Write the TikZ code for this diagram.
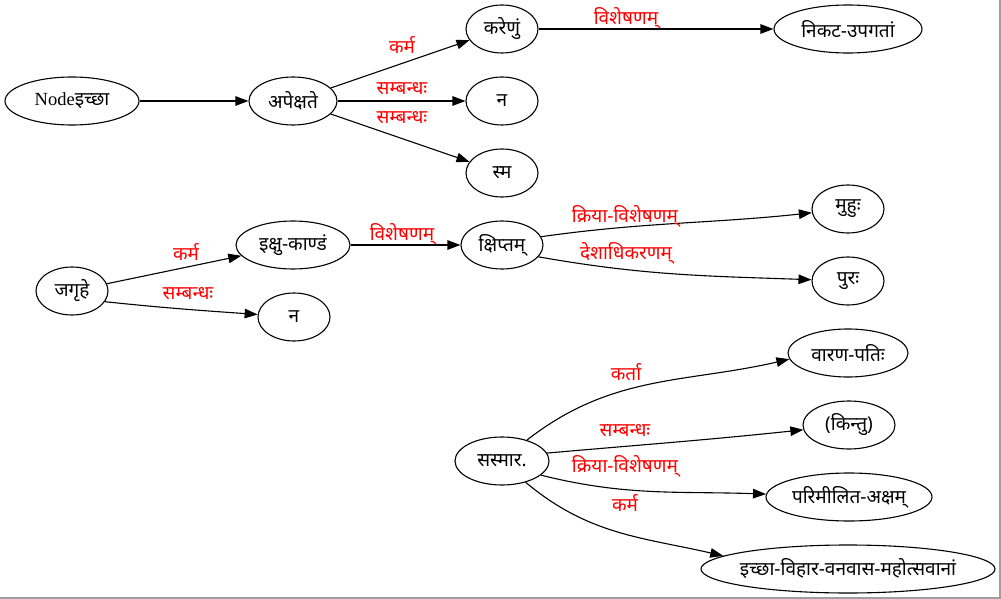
\documentclass[tikz,border=0pt]{standalone}
\usepackage{fontspec}
\setmainfont{Liberation Serif}
\newfontfamily\deva[Script=Devanagari]{Noto Sans}
\usetikzlibrary{shapes.geometric,arrows.meta}
\newcommand{\zb}[1]{\makebox[0pt][c]{#1}}
\begin{document}
\begin{tikzpicture}[x=1pt,y=1pt,
  nd/.style={draw, ellipse, line width=1.1pt, inner sep=0pt, minimum height=48pt,
    font=\fontsize{19}{22}\selectfont\deva},
  ed/.style={line width=1.1pt, -{Triangle[length=13pt,width=9.5pt]}},
  lb/.style={text=red, inner sep=0pt, font=\fontsize{19}{22}\selectfont\deva}]
\useasboundingbox (0,0) rectangle (1001,-599);
\draw[gray!75, line width=1.6pt] (0,-598) -- (999.8,-598) -- (999.8,0);

\node[nd, minimum width=134pt] (n1) at (72,-101) {\zb{{\rmfamily\fontsize{18.5}{22}\selectfont Node}इच्छा}};
\node[nd, minimum width=88pt]  (n2) at (293,-101) {\zb{अपेक्षते}};
\node[nd, minimum width=72pt]  (n3) at (502,-29) {\zb{करेणुं}};
\node[nd, minimum width=72pt]  (n4) at (502,-101) {\zb{न}};
\node[nd, minimum width=72pt]  (n5) at (502,-173) {\zb{स्म}};
\node[nd, minimum width=148pt] (n6) at (848,-29) {\zb{निकट-उपगतां}};

\node[nd, minimum width=72pt]  (n7) at (72,-291) {\zb{जगृहे}};
\node[nd, minimum width=114pt] (n8) at (293,-245) {\zb{इक्षु-काण्डं}};
\node[nd, minimum width=72pt]  (n9) at (294,-317) {\zb{न}};
\node[nd, minimum width=82pt]  (n10) at (502,-245) {\zb{क्षिप्तम्}};
\node[nd, minimum width=72pt]  (n11) at (848,-209) {\zb{मुहुः}};
\node[nd, minimum width=72pt]  (n12) at (848,-281) {\zb{पुरः}};

\node[nd, minimum width=94pt]  (n13) at (502,-461) {\zb{सस्मार.}};
\node[nd, minimum width=120pt] (n14) at (848,-353) {\zb{वारण-पतिः}};
\node[nd, minimum width=92pt]  (n15) at (849,-425) {\zb{(किन्तु)}};
\node[nd, minimum width=166pt] (n16) at (849,-497) {\zb{परिमीलित-अक्षम्}};
\node[nd, minimum width=294pt] (n17) at (848,-569) {\zb{इच्छा-विहार-वनवास-महोत्सवानां}};

\draw[ed] (n1) -- (n2);
\draw[ed] (n2) -- (n3);
\draw[ed] (n2) -- (n4);
\draw[ed] (n2) -- (n5);
\draw[ed] (n3) -- (n6);
\draw[ed] (n7) -- (n8);
\draw[ed] (n7.-18) to[out=-6, in=176] (n9);
\draw[ed] (n8) -- (n10);
\draw[ed] (n10.12) to[out=8, in=186] (n11);
\draw[ed] (n10.-18) to[out=-10, in=178] (n12);
\draw[ed] (n13.40) to[out=38, in=193] (n14.186);
\draw[ed] (n13.10) to[out=5, in=186] (n15);
\draw[ed] (n13.-20) to[out=-14, in=178] (n16);
\draw[ed] (n13.-42) to[out=-40, in=167] (n17.174);

\node[lb] (l1) at (402,-45) {कर्म};
\node[lb] (l2) at (402,-89) {सम्बन्धः};
\node[lb] (l3) at (402,-118) {सम्बन्धः};
\node[lb] (l4) at (626,-18) {विशेषणम्};
\node[lb] (l5) at (186,-252) {कर्म};
\node[lb] (l6) at (188,-294) {सम्बन्धः};
\node[lb] (l7) at (402,-234) {विशेषणम्};
\node[lb] (l8) at (625,-216) {क्रिया-विशेषणम्};
\node[lb] (l9) at (626,-253) {देशाधिकरणम्};
\node[lb] (l10) at (626,-372) {कर्ता};
\node[lb] (l11) at (625,-431) {सम्बन्धः};
\node[lb] (l12) at (625,-466) {क्रिया-विशेषणम्};
\node[lb] (l13) at (625,-503) {कर्म};
\end{tikzpicture}
\end{document}
